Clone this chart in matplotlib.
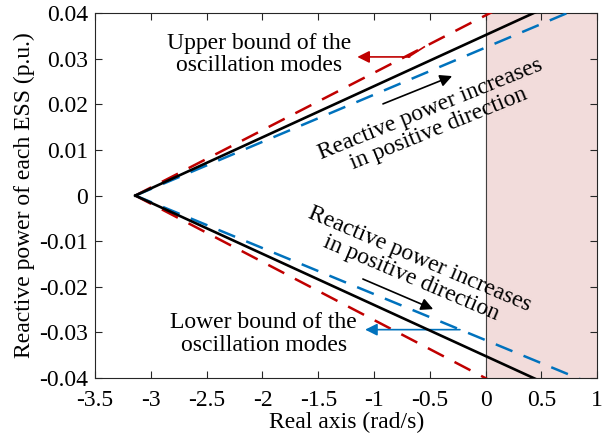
import matplotlib.pyplot as plt

plt.rcParams['font.family'] = ['Liberation Serif', 'DejaVu Serif']
plt.rcParams['mathtext.fontset'] = 'stix'

FS = 17

# line end points (vertex -> edge of the axes)
x_vertex = -3.14
black_x = [x_vertex, 1.0]
black_up = [0.0, 0.0464]
black_lo = [0.0, -0.0464]
red_x = [x_vertex, 1.0]
red_up = [0.0, 0.0521]
red_lo = [0.0, -0.0528]
blue_x = [x_vertex, 1.0]
blue_up = [0.0, 0.0428]
blue_lo = [0.0, -0.0418]

x_ticks = [-3.5, -3, -2.5, -2, -1.5, -1, -0.5, 0, 0.5, 1]
x_labels = ['-3.5', '-3', '-2.5', '-2', '-1.5', '-1', '-0.5', '0', '0.5', '1']
y_ticks = [-0.04, -0.03, -0.02, -0.01, 0, 0.01, 0.02, 0.03, 0.04]
y_labels = ['-0.04', '-0.03', '-0.02', '-0.01', '0', '0.01', '0.02', '0.03', '0.04']

RED = '#c00000'
BLUE = '#0072bd'

fig = plt.figure(figsize=(6.02, 4.38), dpi=100)
ax = fig.add_axes([0.158, 0.137, 0.834, 0.833])

# unstable region
ax.axvspan(0, 1, color='#f2dcdb', zorder=0)
ax.axvline(0, color='#404040', lw=0.8, zorder=1)

dash = (7.2, 4.8)
ax.plot(red_x, red_up, color=RED, lw=1.8, dashes=dash, zorder=3)
ax.plot(red_x, red_lo, color=RED, lw=1.8, dashes=dash, zorder=3)
ax.plot(blue_x, blue_up, color=BLUE, lw=1.8, dashes=dash, zorder=3)
ax.plot(blue_x, blue_lo, color=BLUE, lw=1.8, dashes=dash, zorder=3)
ax.plot(black_x, black_up, color='black', lw=1.9, zorder=4)
ax.plot(black_x, black_lo, color='black', lw=1.9, zorder=4)

ax.set_xlim(-3.5, 1)
ax.set_ylim(-0.04, 0.04)
ax.set_xticks(x_ticks)
ax.set_xticklabels(x_labels)
ax.set_yticks(y_ticks)
ax.set_yticklabels(y_labels)
ax.tick_params(direction='in', top=True, right=True, labelsize=FS,
               length=5, width=0.8, colors='#262626', labelcolor='black')
ax.tick_params(axis='x', pad=9)
ax.tick_params(axis='y', pad=5)
for s in ax.spines.values():
    s.set_color('#262626')
    s.set_linewidth(0.8)
ax.set_xlabel('Real axis (rad/s)', fontsize=FS, labelpad=0)
ax.set_ylabel('Reactive power of each ESS (p.u.)', fontsize=FS, labelpad=3)

# upper bound annotation (red)
ax.plot([-0.55, -0.69], [0.0326, 0.0304], color=RED, lw=1.2, zorder=5)
ax.annotate('', xy=(-1.15, 0.0304), xytext=(-0.68, 0.0304),
            arrowprops=dict(arrowstyle='-|>', color=RED, lw=1.2,
                            mutation_scale=18, shrinkA=0, shrinkB=0))
ax.text(-2.03, 0.0309, 'Upper bound of the\noscillation modes', fontsize=FS,
        ha='center', va='center', linespacing=1.1)

# lower bound annotation (blue)
ax.annotate('', xy=(-1.08, -0.0294), xytext=(-0.23, -0.0294),
            arrowprops=dict(arrowstyle='-|>', color=BLUE, lw=1.2,
                            mutation_scale=18, shrinkA=0, shrinkB=0))
ax.text(-1.99, -0.0303, 'Lower bound of the\noscillation modes', fontsize=FS,
        ha='center', va='center', linespacing=1.1)

# reactive power direction annotations
ax.annotate('', xy=(-0.30, 0.0262), xytext=(-0.92, 0.0201),
            arrowprops=dict(arrowstyle='-|>', color='black', lw=1.2,
                            mutation_scale=18, shrinkA=0, shrinkB=0))
ax.text(-0.46, 0.0168, 'Reactive power increases\nin positive direction',
        fontsize=FS, ha='center', va='center', rotation=22,
        rotation_mode='anchor', linespacing=1.0)

ax.annotate('', xy=(-0.47, -0.0249), xytext=(-1.10, -0.0183),
            arrowprops=dict(arrowstyle='-|>', color='black', lw=1.2,
                            mutation_scale=18, shrinkA=0, shrinkB=0))
ax.text(-0.63, -0.0160, 'Reactive power increases\nin positive direction',
        fontsize=FS, ha='center', va='center', rotation=-23,
        rotation_mode='anchor', linespacing=1.0)

fig.savefig('out.png', dpi=100)
